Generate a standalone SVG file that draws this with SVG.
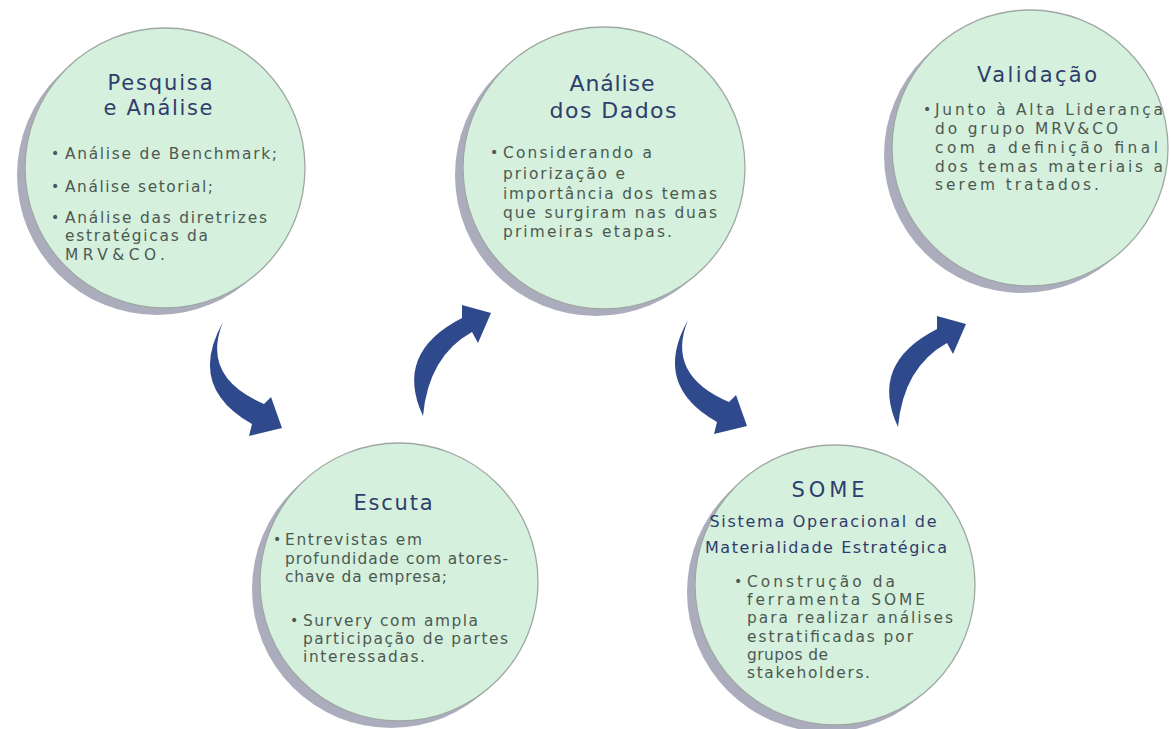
<svg xmlns="http://www.w3.org/2000/svg" width="1171" height="729" viewBox="0 0 1171 729">
<defs>
<style>
.shadow{fill:#abadbd}
.disc{fill:#d5f0dc;stroke:#9fa8a4;stroke-width:1.3}
.title{font-family:"DejaVu Sans","Liberation Sans",sans-serif;fill:#2f3d6c;text-anchor:middle}
.t1{font-size:21px}
.t1b{font-size:22px}
.t2{font-size:21px}
.sub{font-family:"DejaVu Sans","Liberation Sans",sans-serif;fill:#2f3d6c;text-anchor:middle;font-size:16px}
.body{font-family:"DejaVu Sans","Liberation Sans",sans-serif;fill:#4c5952;font-size:15.4px}
.bul{font-family:"DejaVu Sans","Liberation Sans",sans-serif;fill:#4c5952;font-size:14px}
.arrow{fill:#2f4a8c}
</style>
<path id="arrDown" d="M223,322 Q186.5,387 252,424 L249,436 L282,428 L271,397 L264,404 Q200.5,377 223,322 Z"/>
<path id="arrUp" d="M423,416 Q393.5,353 462,318 L462,305 L491,313 L478,343 L472,332 Q428.5,356 423,416 Z"/>
</defs>
<rect width="1171" height="729" fill="#ffffff"/>

<g id="connectors" class="arrow">
<use href="#arrDown"/>
<use href="#arrUp"/>
<use href="#arrDown" transform="translate(465,-2)"/>
<use href="#arrUp" transform="translate(475,11)"/>
</g>

<g id="pesquisa">
<circle class="shadow" cx="157" cy="175" r="140"/>
<circle class="disc" cx="165" cy="168" r="140"/>
<text class="title t1" x="160" y="90" textLength="105" lengthAdjust="spacing">Pesquisa</text>
<text class="title t1" x="158" y="115" textLength="109" lengthAdjust="spacing">e Análise</text>
<text class="bul" x="51" y="158">•</text>
<text class="body" x="65" y="159" textLength="212" lengthAdjust="spacing">Análise de Benchmark;</text>
<text class="bul" x="51" y="191">•</text>
<text class="body" x="65" y="192" textLength="148" lengthAdjust="spacing">Análise setorial;</text>
<text class="bul" x="51" y="222">•</text>
<text class="body"><tspan x="65" y="223" textLength="202" lengthAdjust="spacing">Análise das diretrizes</tspan><tspan x="65" y="241" textLength="143" lengthAdjust="spacing">estratégicas da</tspan><tspan x="65" y="260" textLength="100" lengthAdjust="spacing">MRV&amp;CO.</tspan></text>
</g>

<g id="analise-dados">
<circle class="shadow" cx="596" cy="175" r="141"/>
<circle class="disc" cx="604" cy="168" r="141"/>
<text class="title t1b" x="612" y="91" textLength="85" lengthAdjust="spacing">Análise</text>
<text class="title t1b" x="613" y="118" textLength="127" lengthAdjust="spacing">dos Dados</text>
<text class="bul" x="490" y="157">•</text>
<text class="body"><tspan x="503" y="158" textLength="149" lengthAdjust="spacing">Considerando a</tspan><tspan x="503" y="179" textLength="122" lengthAdjust="spacing">priorização e</tspan><tspan x="503" y="199" textLength="214" lengthAdjust="spacing">importância dos temas</tspan><tspan x="503" y="218" textLength="214" lengthAdjust="spacing">que surgiram nas duas</tspan><tspan x="503" y="237" textLength="169" lengthAdjust="spacing">primeiras etapas.</tspan></text>
</g>

<g id="validacao">
<circle class="shadow" cx="1022" cy="155" r="138"/>
<circle class="disc" cx="1030" cy="148" r="138"/>
<text class="title t2" x="1037" y="82" textLength="120" lengthAdjust="spacing">Validação</text>
<text class="bul" x="923" y="114">•</text>
<text class="body"><tspan x="935" y="115" textLength="228" lengthAdjust="spacing">Junto à Alta Liderança</tspan><tspan x="935" y="134" textLength="183" lengthAdjust="spacing">do grupo MRV&amp;CO</tspan><tspan x="935" y="153" textLength="223" lengthAdjust="spacing">com a definição final</tspan><tspan x="935" y="172" textLength="228" lengthAdjust="spacing">dos temas materiais a</tspan><tspan x="935" y="190" textLength="164" lengthAdjust="spacing">serem tratados.</tspan></text>
</g>

<g id="escuta">
<circle class="shadow" cx="391" cy="589" r="139"/>
<circle class="disc" cx="399" cy="582" r="139"/>
<text class="title t2" x="393" y="510" textLength="79" lengthAdjust="spacing">Escuta</text>
<text class="bul" x="273" y="544">•</text>
<text class="body"><tspan x="285" y="545" textLength="137" lengthAdjust="spacing">Entrevistas em</tspan><tspan x="285" y="564" textLength="223" lengthAdjust="spacing">profundidade com atores-</tspan><tspan x="285" y="582" textLength="162" lengthAdjust="spacing">chave da empresa;</tspan></text>
<text class="bul" x="290" y="625">•</text>
<text class="body"><tspan x="303" y="626" textLength="175" lengthAdjust="spacing">Survery com ampla</tspan><tspan x="303" y="644" textLength="205" lengthAdjust="spacing">participação de partes</tspan><tspan x="303" y="662" textLength="122" lengthAdjust="spacing">interessadas.</tspan></text>
</g>

<g id="some">
<circle class="shadow" cx="827" cy="592" r="140"/>
<circle class="disc" cx="835" cy="585" r="140"/>
<text class="title t2" x="828" y="497" textLength="73" lengthAdjust="spacing">SOME</text>
<text class="sub" x="823" y="527" textLength="227" lengthAdjust="spacing">Sistema Operacional de</text>
<text class="sub" x="826" y="553" textLength="242" lengthAdjust="spacing">Materialidade Estratégica</text>
<text class="bul" x="734" y="586">•</text>
<text class="body"><tspan x="747" y="587" textLength="148" lengthAdjust="spacing">Construção da</tspan><tspan x="747" y="605" textLength="178" lengthAdjust="spacing">ferramenta SOME</tspan><tspan x="747" y="623" textLength="206" lengthAdjust="spacing">para realizar análises</tspan><tspan x="747" y="642" textLength="166" lengthAdjust="spacing">estratificadas por</tspan><tspan x="747" y="660" textLength="81" lengthAdjust="spacing">grupos de</tspan><tspan x="747" y="678" textLength="123" lengthAdjust="spacing">stakeholders.</tspan></text>
</g>
</svg>
